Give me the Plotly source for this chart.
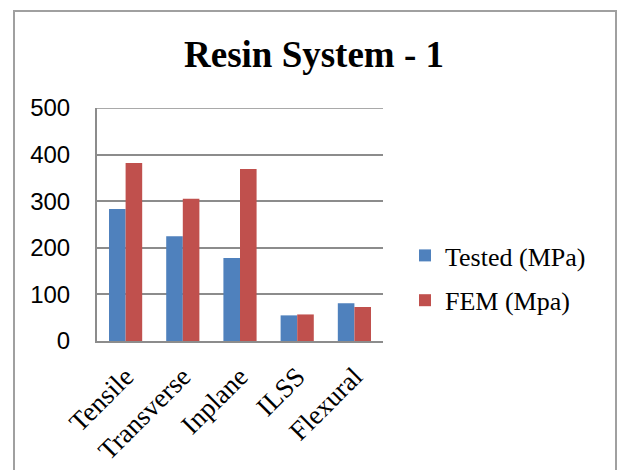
import plotly.graph_objects as go

categories = ["Tensile", "Transverse", "Inplane", "ILSS", "Flexural"]
tested = [283, 225, 178, 55, 81]
fem = [382, 305, 369, 57, 73]
series_names = ["Tested (MPa)", "FEM (Mpa)"]
y_ticks = [0, 100, 200, 300, 400, 500]

L, R, T, B = 97, 383, 108, 341
W, H = 619, 470
pw, ph = R - L, B - T

def px(x):
    return (x - L) / pw

def py(y):
    return (B - y) / ph

fig = go.Figure()
fig.add_trace(go.Bar(x=categories, y=tested, name=series_names[0],
                     marker=dict(color="#4F81BD", line=dict(width=0)),
                     legendgroup="a"))
fig.add_trace(go.Bar(x=categories, y=fem, name=series_names[1],
                     marker=dict(color="#C0504D", line=dict(width=0)),
                     legendgroup="b"))

fig.update_layout(
    width=W, height=H,
    margin=dict(l=L, r=W - R, t=T, b=H - B, pad=0, autoexpand=False),
    paper_bgcolor="white", plot_bgcolor="white",
    barmode="group", bargap=0.42, bargroupgap=0,
    title=dict(text="<b>Resin System - 1</b>", x=314 / W, xref="container",
               xanchor="center", y=1 - 54 / H, yref="container", yanchor="middle",
               font=dict(family="Liberation Serif", size=37, color="black")),
    legend=dict(x=px(405), xanchor="left", y=py(278), yanchor="middle",
                font=dict(family="Liberation Serif", size=26, color="black"),
                traceorder="grouped", tracegroupgap=8, bgcolor="rgba(0,0,0,0)"),
    showlegend=True,
    shapes=[dict(type="rect", xref="paper", yref="paper",
                 x0=px(14), x1=px(616), y0=py(490), y1=py(11),
                 line=dict(color="#A0A0A0", width=2), layer="below"),
            dict(type="line", xref="paper", yref="y", x0=0, x1=1, y0=500, y1=500,
                 line=dict(color="#8C8C8C", width=1.5), layer="below")],
)
fig.update_xaxes(showline=True, linecolor="#8C8C8C", linewidth=2, ticks="",
                 tickangle=-45, showgrid=False, ticklabelstandoff=7, automargin=False,
                 tickfont=dict(family="Liberation Serif", size=27, color="black"))
fig.update_yaxes(range=[0, 500], tickvals=y_ticks, showline=True, linecolor="#8C8C8C",
                 linewidth=2, showgrid=True, gridcolor="#8C8C8C", gridwidth=1.5,
                 zeroline=False, ticks="", ticklabelstandoff=20, automargin=False,
                 tickfont=dict(family="Liberation Sans", size=24, color="black"))

fig.write_html("out.html")
